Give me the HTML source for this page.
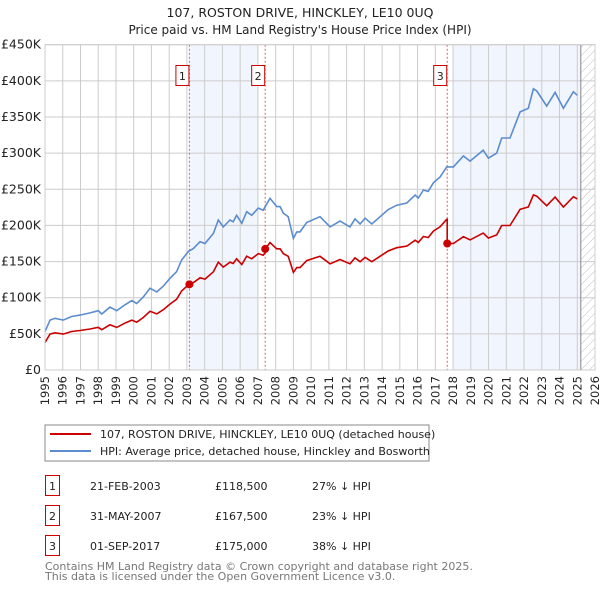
<!DOCTYPE html>
<html><head><meta charset="utf-8"><style>
body{margin:0;background:#fff;}
svg{display:block;font-family:"DejaVu Sans","Liberation Sans",sans-serif;}
</style></head><body>
<svg id="c" width="600" height="590" viewBox="0 0 600 590" xmlns="http://www.w3.org/2000/svg">
<text x="300" y="17" text-anchor="middle" font-size="12.5" fill="#222">107, ROSTON DRIVE, HINCKLEY, LE10 0UQ</text>
<text x="300" y="34" text-anchor="middle" font-size="12" fill="#222">Price paid vs. HM Land Registry's House Price Index (HPI)</text>
<defs><pattern id="h" width="6" height="6" patternUnits="userSpaceOnUse" patternTransform="rotate(45)"><line x1="0" y1="0" x2="0" y2="6" stroke="#bbb" stroke-width="1"/></pattern></defs>
<g id="plot"></g>
<g>
<rect x="45" y="425" width="384" height="36" fill="#fff" stroke="#888"/>
<line x1="50" y1="434" x2="91" y2="434" stroke="#cc0000" stroke-width="2"/>
<text x="100" y="438" font-size="11" fill="#222">107, ROSTON DRIVE, HINCKLEY, LE10 0UQ (detached house)</text>
<line x1="50" y1="451" x2="91" y2="451" stroke="#5b8ccf" stroke-width="2"/>
<text x="100" y="455" font-size="11" fill="#222">HPI: Average price, detached house, Hinckley and Bosworth</text>
</g>
<g font-size="11" fill="#222">
<rect x="45.5" y="475.5" width="14" height="20" fill="none" stroke="#cc0000"/>
<text x="49" y="490">1</text>
<text x="90" y="490">21-FEB-2003</text>
<text x="215" y="490">£118,500</text>
<text x="312" y="490">27% ↓ HPI</text>
<rect x="45.5" y="505.5" width="14" height="20" fill="none" stroke="#cc0000"/>
<text x="49" y="520">2</text>
<text x="90" y="520">31-MAY-2007</text>
<text x="215" y="520">£167,500</text>
<text x="312" y="520">23% ↓ HPI</text>
<rect x="45.5" y="535.5" width="14" height="20" fill="none" stroke="#cc0000"/>
<text x="49" y="550">3</text>
<text x="90" y="550">01-SEP-2017</text>
<text x="215" y="550">£175,000</text>
<text x="312" y="550">38% ↓ HPI</text>
</g>
<text x="45" y="570" font-size="11" fill="#777">Contains HM Land Registry data © Crown copyright and database right 2025.</text>
<text x="45" y="580" font-size="11" fill="#777">This data is licensed under the Open Government Licence v3.0.</text>
</svg>
<script>
const hpiYears=[1995.0,1995.28,1995.56,1996.03,1996.5,1996.97,1997.54,1998.0,1998.2,1998.66,1999.04,1999.5,1999.89,2000.17,2000.54,2000.92,2001.3,2001.67,2002.05,2002.42,2002.7,2003.08,2003.36,2003.74,2004.02,2004.49,2004.77,2005.05,2005.43,2005.61,2005.8,2006.09,2006.37,2006.65,2007.02,2007.3,2007.68,2008.06,2008.25,2008.43,2008.71,2009.0,2009.19,2009.37,2009.75,2010.5,2011.07,2011.63,2012.19,2012.47,2012.76,2013.04,2013.42,2013.98,2014.35,2014.83,2015.39,2015.86,2016.04,2016.33,2016.6,2016.89,2017.27,2017.64,2018.02,2018.58,2018.96,2019.7,2019.99,2020.46,2020.74,2021.21,2021.78,2022.24,2022.53,2022.72,2023.28,2023.75,2024.22,2024.78,2025.0];
const hpiValues=[53,69,71.5,69,74,76,79,82,77.5,87,82,90,96,92,101,113,108,116,127,136,152,164,168,177.5,175,189,207.5,198,207.5,205,214,203,219,214,224,221,237.5,226,226,217,212,182,191,191,204,212,198,206,198,209,202,210,202,214,222,228,231,242,238,249,247,259,267,281,281,296,289,304,293,300,321,321,357,362,389,386,365,384,362,385,380];
const saleYears=[2003.14,2007.41,2017.67];
const salePrices=[118.5,167.5,175];
const saleLabels=["1","2","3"];
const yTicks=[0,50,100,150,200,250,300,350,400,450];
const yTickLabels=["£0","£50K","£100K","£150K","£200K","£250K","£300K","£350K","£400K","£450K"];
const xTicks=[1995,1996,1997,1998,1999,2000,2001,2002,2003,2004,2005,2006,2007,2008,2009,2010,2011,2012,2013,2014,2015,2016,2017,2018,2019,2020,2021,2022,2023,2024,2025,2026];

const NS="http://www.w3.org/2000/svg";
const X0=45,X1=595,Y0=370,Y1=44.7;
const xs=y=>X0+(y-1995)/(2026-1995)*(X1-X0);
const ys=v=>Y0-v/450*(Y0-Y1);
const g=document.getElementById('plot');
function mk(t,a){const e=document.createElementNS(NS,t);for(const k in a)e.setAttribute(k,a[k]);g.appendChild(e);return e;}
function hpiAt(t){for(let i=1;i<hpiYears.length;i++){if(t<=hpiYears[i]){const f=(t-hpiYears[i-1])/(hpiYears[i]-hpiYears[i-1]);return hpiValues[i-1]+f*(hpiValues[i]-hpiValues[i-1]);}}return hpiValues[hpiValues.length-1];}

let e=mk('rect',{x:xs(saleYears[0]),y:Y1,width:xs(2007.0)-xs(saleYears[0]),height:Y0-Y1,fill:'#eef3fc',opacity:0.8});


e=mk('rect',{x:xs(2018.0),y:Y1,width:xs(2025.2)-xs(2018.0),height:Y0-Y1,fill:'#eef3fc',opacity:0.8});


e=mk('rect',{x:xs(2025.2),y:Y1,width:X1-xs(2025.2),height:Y0-Y1,fill:'url(#h)'});



yTicks.forEach((v,i)=>{
 const l=mk('line',{x1:X0,x2:X1,y1:ys(v),y2:ys(v),stroke:'#ccc','stroke-width':1});
 
 
 const t=mk('text',{x:X0-4,y:ys(v)+4,'text-anchor':'end','font-size':'12.5',fill:'#222'});
 t.textContent=yTickLabels[i];
 
 
});
xTicks.forEach(yr=>{
 const l=mk('line',{x1:xs(yr),x2:xs(yr),y1:Y1,y2:Y0,stroke:'#ccc','stroke-width':1});
 
 
 const t=mk('text',{x:0,y:0,'text-anchor':'end','font-size':'11.5',fill:'#222',transform:`translate(${xs(yr)+4},${Y0+6}) rotate(-90)`});
 t.textContent=String(yr);
 
 
});
e=mk('line',{x1:xs(2025.2),x2:xs(2025.2),y1:Y1,y2:Y0,stroke:'#888','stroke-width':1});



saleYears.forEach((sy,i)=>{
 const l=mk('line',{x1:xs(sy),x2:xs(sy),y1:Y1,y2:Y0,stroke:'#e06060','stroke-width':1,'stroke-dasharray':'2,2'});
 
 
});

let d='';hpiYears.forEach((yr,i)=>{d+=(i?'L':'M')+xs(yr).toFixed(1)+','+ys(hpiValues[i]).toFixed(1);});
e=mk('path',{d:d,fill:'none',stroke:'#5b8ccf','stroke-width':1.6});



const ratios=saleYears.map((s,i)=>salePrices[i]/hpiAt(s));
function ratioAt(t){let r=ratios[0];saleYears.forEach((s,i)=>{if(t>=s)r=ratios[i];});return r;}
const pts=[];
hpiYears.forEach((yr,i)=>{
 saleYears.forEach((s,k)=>{if(i>0&&hpiYears[i-1]<s&&yr>=s){pts.push([s,hpiAt(s)*(k?ratios[k-1]:ratios[0])]);pts.push([s,salePrices[k]]);}});
 pts.push([yr,hpiValues[i]*ratioAt(yr)]);
});
d='';pts.forEach((p,i)=>{d+=(i?'L':'M')+xs(p[0]).toFixed(1)+','+ys(p[1]).toFixed(1);});
e=mk('path',{d:d,fill:'none',stroke:'#cc0000','stroke-width':1.6});



saleYears.forEach((sy,i)=>{
 const c=mk('circle',{cx:xs(sy),cy:ys(salePrices[i]),r:4,fill:'#cc0000'});
 
 
 const r=mk('rect',{x:xs(sy)-13.5,y:65.5,width:13,height:20,fill:'#fff',stroke:'#cc0000'});
 
 
 const t=mk('text',{x:xs(sy)-7,y:80,'text-anchor':'middle','font-size':'11',fill:'#222'});
 t.textContent=saleLabels[i];
 
 
});
e=mk('rect',{x:X0,y:Y1,width:X1-X0,height:Y0-Y1,fill:'none',stroke:'#ccc'});


</script>
</body></html>
